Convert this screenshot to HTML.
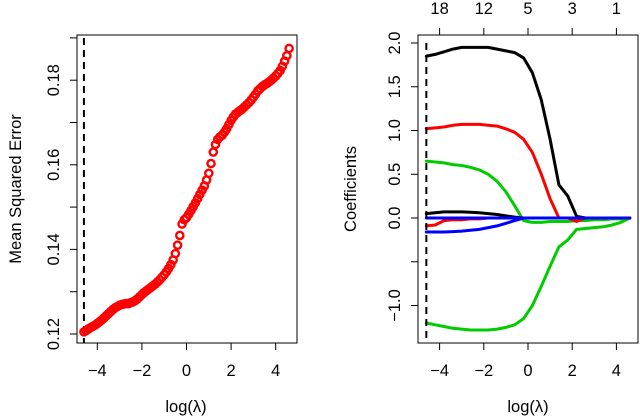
<!DOCTYPE html>
<html><head><meta charset="utf-8"><style>
body{margin:0;background:#fff;}
svg{display:block;font-family:"Liberation Sans",sans-serif;}
</style></head><body>
<svg id="c" width="640" height="418" viewBox="0 0 640 418"></svg>
<script>
const mseX=[-4.6,-4.5,-4.4,-4.3,-4.2,-4.1,-4.0,-3.9,-3.8,-3.7,-3.6,-3.5,-3.4,-3.3,-3.2,-3.1,-3.0,-2.9,-2.8,-2.7,-2.6,-2.5,-2.4,-2.3,-2.2,-2.1,-2.0,-1.9,-1.8,-1.7,-1.6,-1.5,-1.4,-1.3,-1.2,-1.1,-1.0,-0.9,-0.8,-0.7,-0.6,-0.5,-0.4,-0.3,-0.2,-0.1,0,0.1,0.2,0.3,0.4,0.5,0.6,0.7,0.8,0.9,1.0,1.1,1.2,1.3,1.4,1.5,1.6,1.7,1.8,1.9,2.0,2.1,2.2,2.3,2.4,2.5,2.6,2.7,2.8,2.9,3.0,3.1,3.2,3.3,3.4,3.5,3.6,3.7,3.8,3.9,4.0,4.1,4.2,4.3,4.4,4.5,4.6];
const mseY=[.1205,.1208,.1212,.1215,.1218,.1221,.1225,.1229,.1233,.1238,.1243,.1248,.1253,.1258,.1262,.1265,.1268,.1270,.1271,.1272,.1272,.1274,.1276,.1279,.1283,.1288,.1293,.1298,.1302,.1306,.1310,.1314,.1318,.1323,.1328,.1334,.1340,.1347,.1355,.1364,.1375,.1390,.1410,.1433,.1460,.1470,.1475,.1483,.1492,.1501,.1510,.1520,.1530,.1540,.1550,.1564,.1580,.1603,.1630,.1648,.1660,.1666,.1670,.1677,.1685,.1695,.1705,.1713,.1720,.1724,.1728,.1732,.1737,.1742,.1747,.1753,.1760,.1767,.1775,.1780,.1785,.1789,.1792,.1796,.1800,.1805,.1810,.1816,.1823,.1833,.1845,.1858,.1875];
const mseYTicks=[0.12,0.13,0.14,0.15,0.16,0.17,0.18,0.19];
const mseYLabels=["0.12","","0.14","","0.16","","0.18",""];
const xTicks=[-4,-2,0,2,4];
const xLabels=["\u22124","\u22122","0","2","4"];
const cvLambda=-4.6;
const coefX=[-4.6,-4.2,-3.8,-3.4,-3.0,-2.6,-2.2,-1.8,-1.4,-1.0,-0.6,-0.2,0.2,0.6,1.0,1.4,1.8,2.2,2.6,3.0,3.4,3.8,4.2,4.6];
const black1=[1.85,1.87,1.90,1.93,1.95,1.95,1.95,1.95,1.93,1.91,1.89,1.83,1.66,1.35,0.90,0.38,0.25,0.02,0,0,0,0,0,0];
const red1=[1.02,1.03,1.04,1.06,1.07,1.07,1.07,1.06,1.05,1.02,0.98,0.90,0.75,0.50,0.22,0,0,-0.04,0,0,0,0,0,0];
const green1=[0.65,0.64,0.63,0.61,0.60,0.58,0.55,0.50,0.42,0.30,0.14,-0.03,-0.05,-0.05,-0.04,-0.04,-0.04,-0.03,-0.03,-0.02,-0.02,-0.01,-0.01,0];
const green2=[-1.20,-1.22,-1.24,-1.26,-1.27,-1.28,-1.28,-1.28,-1.27,-1.25,-1.22,-1.15,-1.00,-0.78,-0.55,-0.33,-0.25,-0.13,-0.12,-0.11,-0.10,-0.08,-0.05,0];
const black2=[0.05,0.06,0.07,0.07,0.07,0.065,0.06,0.05,0.04,0.025,0.01,0,0,0,0,0,0,0,0,0,0,0,0,0];
const red2=[-0.09,-0.08,-0.03,-0.02,-0.02,-0.01,-0.01,0,0,0,0,0,0,0,0,0,0,0,0,0,0,0,0,0];
const blue1=[-0.16,-0.16,-0.16,-0.155,-0.15,-0.14,-0.13,-0.11,-0.09,-0.06,-0.03,0,0,0,0,0,0,0,0,0,0,0,0,0];
const flat0=[0,0,0,0,0,0,0,0,0,0,0,0,0,0,0,0,0,0,0,0,0,0,0,0];
const coefYTicks=[-1.0,-0.5,0,0.5,1.0,1.5,2.0];
const coefYLabels=["\u22121.0","","0.0","0.5","1.0","1.5","2.0"];
const topLabels=["18","12","5","3","1"];

const svg=document.getElementById('c');
const NS="http://www.w3.org/2000/svg";
function mk(tag,attrs,parent){const e=document.createElementNS(NS,tag);for(const k in attrs)e.setAttribute(k,attrs[k]);(parent||svg).appendChild(e);return e;}
function txt(x,y,s,rot,anchor){const t=mk('text',{x:x,y:y,'font-size':16.5,'text-anchor':anchor||'middle',fill:'#000'});if(rot)t.setAttribute('transform','rotate(-90 '+x+' '+y+')');t.textContent=s;return t;}

// Left panel
const L={x0:77,x1:297,y0:35,y1:343};
const lx=v=>186.5+v*22.3;
const ly=v=>334-(v-0.12)*4230;
const g1=mk('g',{});


let r=mk('rect',{x:L.x0,y:L.y0,width:L.x1-L.x0,height:L.y1-L.y0,fill:'none',stroke:'#000','stroke-width':1},g1);

xTicks.forEach((v,i)=>{const x=lx(v);mk('line',{x1:x,x2:x,y1:L.y1,y2:L.y1+7,stroke:'#000'},g1);const t=txt(x,376,xLabels[i]);});
mseYTicks.forEach((v,i)=>{const y=ly(v);mk('line',{x1:L.x0,x2:L.x0-7,y1:y,y2:y,stroke:'#000'},g1);if(mseYLabels[i]){const t=txt(59,y,mseYLabels[i],true);}});
let t=txt(186,412,'log(\u03bb)');
t=txt(21,189,'Mean Squared Error',true);
let dl=mk('line',{x1:lx(cvLambda),x2:lx(cvLambda),y1:L.y0+3,y2:L.y1,stroke:'#000','stroke-width':2,'stroke-dasharray':'7,5'},g1);

mseX.forEach((v,i)=>{const c=mk('circle',{cx:lx(v),cy:ly(mseY[i]),r:3.6,fill:'none',stroke:'#f00','stroke-width':2.4},g1);});

// Right panel
const R={x0:418,x1:638,y0:35,y1:343};
const rx=v=>528+v*22.1;
const ry=v=>218-v*87.5;
const g2=mk('g',{});


r=mk('rect',{x:R.x0,y:R.y0,width:R.x1-R.x0,height:R.y1-R.y0,fill:'none',stroke:'#000','stroke-width':1},g2);

xTicks.forEach((v,i)=>{const x=rx(v);mk('line',{x1:x,x2:x,y1:R.y1,y2:R.y1+7,stroke:'#000'},g2);mk('line',{x1:x,x2:x,y1:R.y0,y2:R.y0-7,stroke:'#000'},g2);
 const a=txt(x,376,xLabels[i]);
 const b=txt(x,14,topLabels[i]);});
coefYTicks.forEach((v,i)=>{const y=ry(v);mk('line',{x1:R.x0,x2:R.x0-7,y1:y,y2:y,stroke:'#000'},g2);if(coefYLabels[i]){const a=txt(400,y,coefYLabels[i],true);}});
t=txt(528,412,'log(\u03bb)');
t=txt(356,189,'Coefficients',true);
function path(arr,col,name,w){const d=coefX.map((v,i)=>(i?'L':'M')+rx(v).toFixed(1)+','+ry(arr[i]).toFixed(1)).join('');const p=mk('path',{d:d,fill:'none',stroke:col,'stroke-width':w||3,'stroke-linejoin':'round','stroke-linecap':'round'},g2);}
path(flat0,'#f0f','coef-path-magenta',2);
path(red2,'#f00','coef-path-red-2');
path(green1,'#0c0','coef-path-green-1');
path(green2,'#0c0','coef-path-green-2');
path(red1,'#f00','coef-path-red-1');
path(black2,'#000','coef-path-black-2');
path(black1,'#000','coef-path-black-1');
path(blue1,'#00f','coef-path-blue-1');
path(flat0,'#00f','coef-path-blue-flat',3);
dl=mk('line',{x1:rx(cvLambda),x2:rx(cvLambda),y1:R.y0+8,y2:R.y1,stroke:'#000','stroke-width':2,'stroke-dasharray':'7,5'},g2);

</script>
</body></html>
